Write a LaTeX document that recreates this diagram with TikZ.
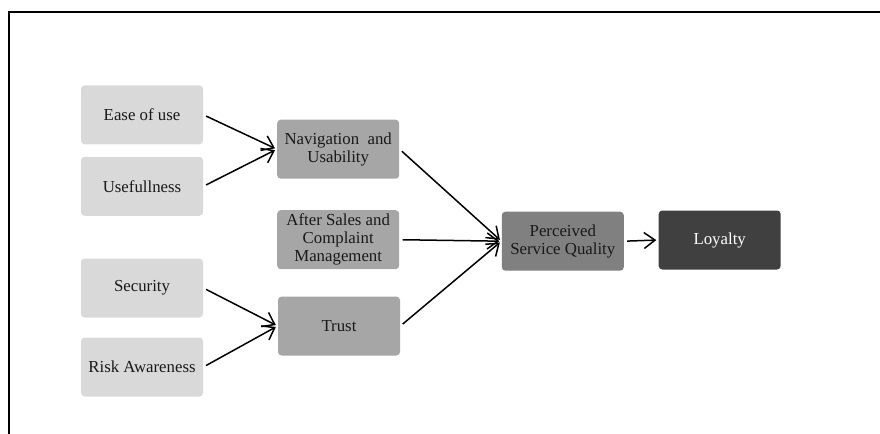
\documentclass[tikz,border=0pt]{standalone}
\usepackage{fontspec}
\setmainfont{Liberation Serif}
\usetikzlibrary{arrows.meta}
\definecolor{boxlight}{HTML}{D9D9D9}
\definecolor{boxmid}{HTML}{A6A6A6}
\definecolor{boxdark}{HTML}{808080}
\definecolor{boxblack}{HTML}{404040}
\begin{document}
\begin{tikzpicture}[x=0.5pt,y=-0.5pt,
  box/.style={rounded corners=1.8pt, minimum width=61pt, minimum height=29.5pt, inner sep=0pt, align=center,
    font=\fontsize{8.4}{9}\selectfont, text=black!90},
  lightbox/.style={box, fill=boxlight},
  midbox/.style={box, fill=boxmid},
  darkbox/.style={box, fill=boxdark},
  blackbox/.style={box, fill=boxblack, text=white},
  link/.style={line width=0.75pt, -{Straight Barb[length=5.5pt,width=8pt,line width=0.75pt]}, shorten <=1.5pt, shorten >=1pt}]
\useasboundingbox (0,0) rectangle (880,434);
\draw[line width=1pt] (8.5,434) -- (8.5,11.5) -- (880,11.5);
\node[lightbox] (ease) at (142,114.8) {Ease of use};
\node[lightbox] (useful) at (142,186.3) {Usefullness};
\node[lightbox] (security) at (142,288) {Security};
\node[lightbox] (risk) at (142,367) {Risk Awareness};
\node[midbox] (nav) at (338.2,149.2) {Navigation~ and\\Usability};
\node[midbox] (after) at (338.2,239.7) {After Sales and\\Complaint\\Management};
\node[midbox] (trust) at (339,326) {Trust};
\node[darkbox] (perc) at (562.8,241.2) {Perceived\\Service Quality};
\node[blackbox] (loyal) at (719.7,240) {Loyalty};
\draw[link] (ease.east) -- (nav.west);
\draw[link] (useful.east) -- (nav.west);
\draw[link] (security.east) -- (trust.west);
\draw[link] (risk.east) -- (trust.west);
\draw[link] (nav.east) -- (perc.west);
\draw[link] (after.east) -- (perc.west);
\draw[link] (trust.east) -- (perc.west);
\draw[link] (perc.east) -- (loyal.west);
\end{tikzpicture}
\end{document}
